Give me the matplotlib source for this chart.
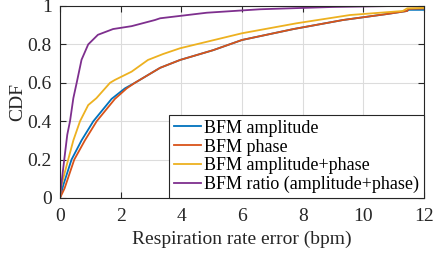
import matplotlib
matplotlib.use('Agg')
import matplotlib.pyplot as plt

# values (error in bpm, cumulative fraction)
amp_x = [0, 0.11, 0.38, 0.71, 1.1, 1.7, 2.14, 2.47, 3.3, 3.96, 5.05, 6.0, 7.7, 9.33, 10.77, 11.44, 11.5, 12]
amp_c = [0, 0.068, 0.2, 0.3, 0.4, 0.516, 0.571, 0.6, 0.678, 0.719, 0.77, 0.823, 0.88, 0.927, 0.958, 0.974, 0.98, 0.98]

phase_x = [0, 0.15, 0.47, 0.82, 1.21, 1.81, 2.2, 2.47, 3.3, 3.96, 5.05, 6.0, 7.7, 9.33, 10.77, 11.44, 11.5, 12]
phase_c = [0, 0.05, 0.2, 0.3, 0.4, 0.516, 0.571, 0.6, 0.678, 0.719, 0.77, 0.823, 0.88, 0.927, 0.958, 0.974, 0.985, 0.987]

both_x = [0, 0.05, 0.27, 0.44, 0.66, 0.93, 1.2, 1.65, 1.81, 2.36, 2.9, 3.4, 3.96, 6.0, 7.8, 9.56, 11.3, 11.45, 12]
both_c = [0, 0.068, 0.2, 0.3, 0.4, 0.484, 0.52, 0.6, 0.615, 0.658, 0.719, 0.75, 0.78, 0.858, 0.91, 0.953, 0.974, 0.988, 0.99]

ratio_x = [0, 0.05, 0.14, 0.24, 0.33, 0.44, 0.55, 0.71, 0.93, 1.25, 1.75, 2.36, 3.13, 3.3, 4.84, 6.6, 8, 9, 11, 12]
ratio_c = [0, 0.08, 0.2, 0.33, 0.4, 0.52, 0.6, 0.72, 0.8, 0.85, 0.88, 0.895, 0.927, 0.936, 0.965, 0.983, 0.99, 0.995, 1.0, 1.0]

labels = ['BFM amplitude', 'BFM phase', 'BFM amplitude+phase', 'BFM ratio (amplitude+phase)']
colors = ['#0072BD', '#D95319', '#EDB120', '#7E2F8E']
xticks = [0, 2, 4, 6, 8, 10, 12]
yticks = [0, 0.2, 0.4, 0.6, 0.8, 1]
ytick_labels = ['0', '0.2', '0.4', '0.6', '0.8', '1']

plt.rcParams['font.family'] = ['Liberation Serif', 'DejaVu Serif']

fig = plt.figure(figsize=(4.33, 2.56), dpi=100)
ax = fig.add_axes([60 / 433, 1 - 198 / 256, 364 / 433, 192 / 256])

series = [(amp_x, amp_c), (phase_x, phase_c), (both_x, both_c), (ratio_x, ratio_c)]
for (xs, cs), lab, col in zip(series, labels, colors):
    ax.plot(xs, cs, color=col, lw=1.3, label=lab)

ax.set_xlim(0, 12)
ax.set_ylim(0, 1)
ax.set_xticks(xticks)
ax.set_yticks(yticks)
ax.set_yticklabels(ytick_labels)
ax.grid(True, color='#dcdcdc', lw=0.8)
ax.set_axisbelow(True)
for s in ax.spines.values():
    s.set_color('#262626')
    s.set_linewidth(0.8)
ax.tick_params(direction='in', top=True, right=True, length=4, labelsize=14,
               colors='#262626')
ax.tick_params(axis='x', pad=7)
ax.tick_params(axis='y', pad=6)
ax.set_xlabel('Respiration rate error (bpm)', fontsize=14, color='#262626', labelpad=4)
ax.set_ylabel('CDF', fontsize=14, color='#262626', labelpad=1)

leg = ax.legend(loc='lower right', borderaxespad=0, fontsize=13, frameon=True,
                fancybox=False, handlelength=1.5, handletextpad=0.2,
                borderpad=0.25, labelspacing=0.1)
leg.get_frame().set_edgecolor('#262626')
leg.get_frame().set_linewidth(0.8)
leg.get_frame().set_alpha(1)

fig.savefig('out.png', dpi=100)
